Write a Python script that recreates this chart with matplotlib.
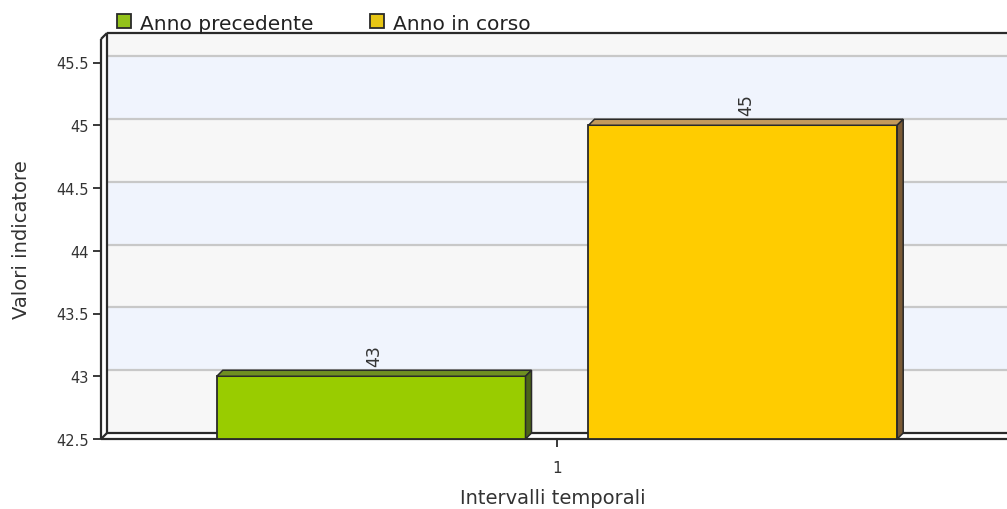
import matplotlib
matplotlib.use("Agg")
import matplotlib.pyplot as plt
from matplotlib.patches import Polygon, Rectangle
from matplotlib.ticker import FormatStrFormatter

plt.rcParams["font.family"] = ["DejaVu Sans"]

# ---- data ----
categories = [1]
series_names = ["Anno precedente", "Anno in corso"]
values_prev = [43]
values_curr = [45]
y_ticks = [42.5, 43, 43.5, 44, 44.5, 45, 45.5]
x_label = "Intervalli temporali"
y_label = "Valori indicatore"

# ---- style ----
face_cols = ["#99cc00", "#ffcc00"]
legend_cols = ["#93c21a", "#e8c614"]
top_cols = ["#6f8f22", "#c49a5c"]
side_cols = ["#4c6418", "#7a5a35"]
edge = "#2a2a2a"
band_cols = ["#f7f7f7", "#f0f4fd"]
grid_col = "#c8c8c8"
txt_col = "#333333"
fs_tick = 10.5
fs_label = 14
fs_value = 12.5
fs_legend = 14.5

W, H = 1007, 510
fig = plt.figure(figsize=(W / 100, H / 100), dpi=100)
ax_l, ax_r, ax_top, ax_bot = 101, 1007, 40, 440
ax_w_px, ax_h_px = ax_r - ax_l, ax_bot - ax_top
ax = fig.add_axes([ax_l / W, (H - ax_bot) / H, ax_w_px / W, ax_h_px / H])

px_per_x = 900.0
px_per_y = 125.5
tick_px = 557
x0 = 1 - (tick_px - ax_l) / px_per_x
x1 = 1 + (ax_r - tick_px) / px_per_x
y0 = 42.5
y1 = y0 + ax_h_px / px_per_y
ax.set_xlim(x0, x1)
ax.set_ylim(y0, y1)
for s in ax.spines.values():
    s.set_visible(False)
ax.set_facecolor("white")

depth = 6
ddx = depth / px_per_x
ddy = depth / px_per_y

# back wall bands
bounds = y_ticks + [y1]
for i in range(len(bounds) - 1):
    ax.add_patch(Rectangle((x0 + ddx, bounds[i] + ddy), x1 - x0, bounds[i + 1] - bounds[i],
                           facecolor=band_cols[i % 2], edgecolor="none", clip_on=False, zorder=0))
# gridlines on back wall
for t in y_ticks[1:]:
    ax.plot([x0 + ddx, x1 + 0.1], [t + ddy, t + ddy], color=grid_col, lw=1.6, clip_on=False, zorder=1)

# floor and left wall
ax.add_patch(Polygon([(x0, y0), (x0 + ddx, y0 + ddy), (x1 + 0.1, y0 + ddy), (x1 + 0.1, y0)],
                     closed=True, facecolor="white", edgecolor="none", clip_on=False, zorder=2))
ax.add_patch(Polygon([(x0, y0), (x0 + ddx, y0 + ddy), (x0 + ddx, y1 + ddy), (x0, y1)],
                     closed=True, facecolor="white", edgecolor="none", clip_on=False, zorder=2))
frame_lines = [
    ([x0, x0], [y0, y1]),
    ([x0, x0 + ddx], [y1, y1 + ddy]),
    ([x0 + ddx, x1 + 0.1], [y1 + ddy, y1 + ddy]),
    ([x0 + ddx, x0 + ddx], [y0 + ddy, y1 + ddy]),
    ([x0 + ddx, x1 + 0.1], [y0 + ddy, y0 + ddy]),
    ([x0, x1 + 0.1], [y0, y0]),
    ([x0, x0 + ddx], [y0, y0 + ddy]),
]
for xs, ys in frame_lines:
    ax.plot(xs, ys, color=edge, lw=1.6, clip_on=False, zorder=3, solid_capstyle="butt")

# bars
bar_w = 0.343
offsets = [-0.2065, 0.2065]
series = [values_prev, values_curr]
for k, vals in enumerate(series):
    for c, v in zip(categories, vals):
        xc = c + offsets[k]
        xa, xb = xc - bar_w / 2, xc + bar_w / 2
        ax.bar([xc], [v - y0], bottom=y0, width=bar_w, color=face_cols[k], edgecolor=edge,
               linewidth=1.3, zorder=5, clip_on=False)
        ax.add_patch(Polygon([(xa, v), (xa + ddx, v + ddy), (xb + ddx, v + ddy), (xb, v)],
                             closed=True, facecolor=top_cols[k], edgecolor=edge, lw=1.1,
                             clip_on=False, zorder=6))
        ax.add_patch(Polygon([(xb, y0), (xb + ddx, y0 + ddy), (xb + ddx, v + ddy), (xb, v)],
                             closed=True, facecolor=side_cols[k], edgecolor=edge, lw=1.1,
                             clip_on=False, zorder=6))
        ax.annotate(f"{v:g}", (xc + ddx / 2, v + ddy), xytext=(0, 3), textcoords="offset points",
                    rotation=90, ha="center", va="bottom", fontsize=fs_value, color=txt_col, zorder=7)

# axes ticks
ax.set_yticks(y_ticks)
ax.yaxis.set_major_formatter(FormatStrFormatter("%g"))
ax.set_xticks(categories)
ax.set_xticklabels([str(c) for c in categories])
ax.tick_params(axis="y", length=6, width=1.3, color=edge, pad=3, labelsize=fs_tick, labelcolor=txt_col)
ax.tick_params(axis="x", length=6, width=1.3, color=edge, pad=9, labelsize=fs_tick + 0.5,
               labelcolor=txt_col)
ax.set_xlabel(x_label, fontsize=fs_label, color=txt_col)
ax.set_ylabel(y_label, fontsize=fs_label, color=txt_col)
ax.xaxis.set_label_coords((553 - ax_l) / ax_w_px, (ax_bot - 489) / ax_h_px)
ax.yaxis.set_label_coords((31 - ax_l) / ax_w_px, 0.5)

# legend
leg_x = [117, 370]
for lx, name, col in zip(leg_x, series_names, legend_cols):
    fig.patches.append(Rectangle((lx / W, (H - 29) / H), 14 / W, 14 / H, transform=fig.transFigure,
                                 facecolor=col, edgecolor=edge, lw=1.3))
    fig.text((lx + 23) / W, (H - 30) / H, name, ha="left", va="baseline", fontsize=fs_legend,
             color="#222222")

fig.savefig("out.png", dpi=100)
